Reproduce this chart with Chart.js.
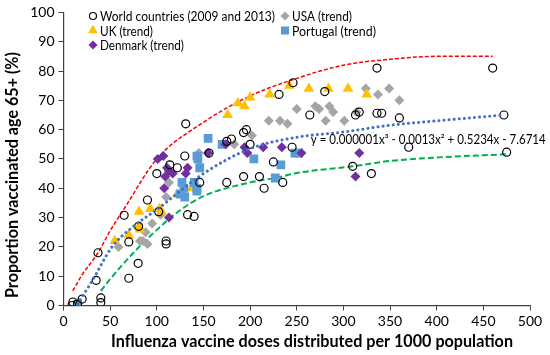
<!DOCTYPE html>
<html>
<head>
<meta charset="utf-8">
<script src="https://cdn.jsdelivr.net/npm/chart.js@4"></script>
<style>
  html, body { margin: 0; padding: 0; background: #fff; }
  #wrap { width: 550px; height: 355px; }
</style>
</head>
<body>
<div id="wrap"><canvas id="vacc"></canvas></div>
<script>
// world countries (2009 and 2013)
const worldX = [9, 10, 15, 20, 35, 37, 40, 40, 65, 70, 70, 80, 80.5, 90, 100, 102, 110, 110, 114, 122, 130, 131, 133, 140, 146, 156, 175, 175, 180, 193, 193, 196, 200, 210, 215, 225, 231, 235, 245, 246, 264, 280, 310, 313, 317, 330, 336, 336, 341, 360, 370, 460, 472, 475];
const worldY = [0, 1.2, 0.5, 2.2, 8.6, 18, 2.6, 1, 30.8, 9.3, 21.7, 14.4, 27, 36, 45, 32, 22, 21, 48, 47, 51, 62, 31, 30.4, 42, 52, 42, 56, 56.8, 44, 59, 60, 55, 44, 40, 49, 72, 42, 54, 76, 65, 73, 47.5, 65, 66, 45, 81, 65.6, 65.6, 64, 54, 81, 65, 52.3];

const usaX = [59, 82, 85, 88, 90, 95, 104, 110, 113, 145, 183, 202, 220, 232, 240, 250, 270, 274, 281, 285, 289, 301, 314, 324, 337, 349, 360];
const usaY = [20, 22, 22, 25, 21, 28, 31, 37, 42, 52, 55, 58, 63, 63, 62, 67, 68, 67, 63, 68, 66, 63, 66, 74, 72, 74, 70];

const ukX = [55, 70, 81, 81, 82, 93, 103, 105, 122, 137, 176, 187, 194, 200, 221, 242, 263, 284, 305, 325];
const ukY = [22, 24, 32, 27, 26, 33, 33, 32, 38, 40, 65, 69, 68, 71, 72, 75, 74, 74, 74, 72];

const portugalX = [15, 125, 127, 130, 129, 140, 143, 143, 143, 144, 146, 155, 170, 204, 227, 233, 248, 252];
const portugalY = [0.5, 38, 42, 37, 40, 42, 40, 39, 51, 50, 47, 57, 55, 50, 43.5, 48, 52, 52];

const denmarkX = [101, 107, 109, 108, 111, 113, 117, 113, 131, 133, 155, 174, 194, 197, 214, 234, 255, 313, 317];
const denmarkY = [50, 51, 44, 40, 47, 46, 45, 30, 45, 47, 52, 55, 54, 52, 54, 54, 52, 44, 52];

// trend lines
const upperX = [10, 20, 37, 50, 65, 100, 150, 200, 250, 300, 350, 400, 460];
const upperY = [5, 10.5, 18, 25.5, 33, 50, 62.5, 71.5, 77.5, 82, 84, 85, 85];
const fitX = [15, 30, 52, 75, 100, 150, 200, 250, 300, 350, 400, 472];
const fitY = [0.5, 8, 20, 27, 32.7, 45, 53.5, 57.4, 59.2, 61.5, 63, 65];
const lowerX = [40, 50, 75, 100, 125, 150, 200, 227, 250, 310, 350, 400, 475];
const lowerY = [5, 9, 18, 25.8, 32.5, 37.3, 42, 43.5, 45.2, 47.5, 49.3, 50.5, 51.6];

const equation = 'y = 0.000001x\u00B3 - 0.0013x\u00B2 + 0.5234x - 7.6714';
const xTitle = 'Influenza vaccine doses distributed per 1000 population';
const yTitle = 'Proportion vaccinated age 65+ (%)';

const pts = (xs, ys) => xs.map((x, i) => ({ x: x, y: ys[i] }));

const FONT = 'Lato, "Open Sans", sans-serif';

// legend, equation and axis titles drawn by hand, placed like the original
const extras = {
    id: 'extras',
    afterDraw(chart) {
        const ctx = chart.ctx;
        const items = [
            { ds: 0, col: 0, row: 0, w: 175 },
            { ds: 2, col: 0, row: 1, w: 53 },
            { ds: 4, col: 0, row: 2, w: 84 },
            { ds: 1, col: 1, row: 0, w: 60 },
            { ds: 3, col: 1, row: 1, w: 84 }
        ];
        const colX = [93, 285];
        const rowY = [16, 30.5, 45];
        items.forEach(it => {
            const d = chart.data.datasets[it.ds];
            const x = colX[it.col], y = rowY[it.row];
            ctx.save();
            ctx.fillStyle = d.pointBackgroundColor;
            ctx.strokeStyle = d.pointBorderColor;
            ctx.lineWidth = d.pointBorderWidth || 0;
            Chart.helpers.drawPoint(ctx, {
                pointStyle: d.pointStyle,
                radius: d.pointRadius - 0.5,
                rotation: 0,
                borderWidth: d.pointBorderWidth || 0
            }, x, y);
            ctx.restore();
            ctx.save();
            ctx.font = '13.5px ' + FONT;
            ctx.textBaseline = 'middle';
            ctx.fillStyle = '#000';
            ctx.fillText(d.label, x + 7, y + 1, it.w);
            ctx.restore();
        });
        const xs = chart.scales.x, ys = chart.scales.y;
        ctx.save();
        ctx.font = '13px ' + FONT;
        ctx.textBaseline = 'middle';
        ctx.fillStyle = '#000';
        ctx.fillText(equation, xs.getPixelForValue(265), ys.getPixelForValue(56.4), 235);

        ctx.font = 'bold 16.5px ' + FONT;
        ctx.textAlign = 'center';
        ctx.fillText(xTitle, 312, 342, 402);
        ctx.translate(13, 175);
        ctx.rotate(-Math.PI / 2);
        ctx.fillText(yTitle, 0, 0, 246);
        ctx.restore();
    }
};

const ctx = document.getElementById('vacc').getContext('2d');

const vaccChart = new Chart(ctx, {
    type: 'scatter',
    data: {
        datasets: [
            {
                label: 'World countries (2009 and 2013)',
                data: pts(worldX, worldY),
                pointStyle: 'circle',
                pointRadius: 4,
                pointBackgroundColor: 'rgba(255,255,255,0)',
                pointBorderColor: '#000',
                pointBorderWidth: 1.2,
                order: 1
            },
            {
                label: 'USA (trend)',
                data: pts(usaX, usaY),
                pointStyle: 'rectRot',
                pointRadius: 5,
                pointBackgroundColor: '#A5A5A5',
                pointBorderColor: '#A5A5A5',
                pointBorderWidth: 0,
                order: 5
            },
            {
                label: 'UK (trend)',
                data: pts(ukX, ukY),
                pointStyle: 'triangle',
                pointRadius: 6.2,
                pointBackgroundColor: '#FFC000',
                pointBorderColor: '#FFC000',
                pointBorderWidth: 0,
                order: 4
            },
            {
                label: 'Portugal (trend)',
                data: pts(portugalX, portugalY),
                pointStyle: 'rect',
                pointRadius: 6.2,
                pointBackgroundColor: '#5B9BD5',
                pointBorderColor: '#5B9BD5',
                pointBorderWidth: 0,
                order: 3
            },
            {
                label: 'Denmark (trend)',
                data: pts(denmarkX, denmarkY),
                pointStyle: 'rectRot',
                pointRadius: 5,
                pointBackgroundColor: '#7030A0',
                pointBorderColor: '#7030A0',
                pointBorderWidth: 0,
                order: 2
            },
            {
                label: 'upper',
                data: pts(upperX, upperY),
                showLine: true,
                pointRadius: 0,
                borderColor: '#FF0000',
                borderWidth: 1.5,
                borderDash: [4, 2],
                cubicInterpolationMode: 'monotone',
                order: 8
            },
            {
                label: 'fit',
                data: pts(fitX, fitY),
                showLine: true,
                pointRadius: 0,
                borderColor: '#4472C4',
                borderWidth: 3,
                borderDash: [0.1, 5],
                borderCapStyle: 'round',
                cubicInterpolationMode: 'monotone',
                order: 0
            },
            {
                label: 'lower',
                data: pts(lowerX, lowerY),
                showLine: true,
                pointRadius: 0,
                borderColor: '#00B050',
                borderWidth: 2,
                borderDash: [6, 3],
                cubicInterpolationMode: 'monotone',
                order: 7
            }
        ]
    },
    options: {
        responsive: true,
        maintainAspectRatio: false,
        animation: false,
        layout: { padding: { top: 12, right: 20, left: 0, bottom: 0 } },
        plugins: {
            legend: { display: false },
            tooltip: { enabled: false }
        },
        scales: {
            x: {
                type: 'linear',
                min: 0,
                max: 500,
                afterFit: s => { s.height = 49.5; },
                ticks: { stepSize: 50, color: '#000', font: { family: FONT, size: 14 }, padding: 3 },
                grid: { drawOnChartArea: false, tickLength: 5, color: '#404040' },
                border: { color: '#404040', width: 1.2 }
            },
            y: {
                min: 0,
                max: 100,
                afterFit: s => { s.width = 63.5; },
                ticks: { stepSize: 10, color: '#000', font: { family: FONT, size: 14 }, padding: 4 },
                grid: { drawOnChartArea: false, tickLength: 5, color: '#404040' },
                border: { color: '#404040', width: 1.2 }
            }
        }
    },
    plugins: [extras]
});
</script>
</body>
</html>
